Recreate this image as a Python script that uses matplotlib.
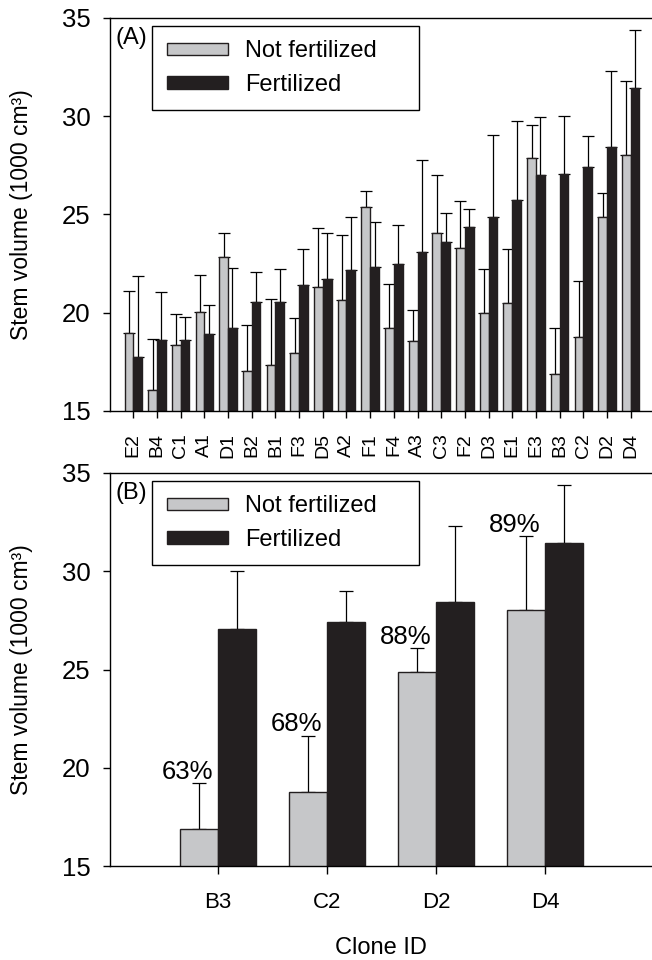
import matplotlib
matplotlib.use("Agg")
import matplotlib.pyplot as plt
import numpy as np

plt.rcParams['font.family'] = ['Liberation Sans', 'DejaVu Sans']

clones = ['E2', 'B4', 'C1', 'A1', 'D1', 'B2', 'B1', 'F3', 'D5', 'A2', 'F1',
          'F4', 'A3', 'C3', 'F2', 'D3', 'E1', 'E3', 'B3', 'C2', 'D2', 'D4']
not_fert = [18.95, 16.05, 18.34, 20.02, 22.82, 17.04, 17.36, 17.95, 21.29, 20.65, 25.37,
            19.24, 18.58, 24.04, 23.31, 19.97, 20.51, 27.89, 16.90, 18.77, 24.86, 28.05]
not_fert_err = [2.17, 2.63, 1.60, 1.92, 1.26, 2.32, 3.34, 1.77, 3.02, 3.29, 0.83,
                2.22, 1.58, 2.99, 2.38, 2.24, 2.75, 1.68, 2.31, 2.86, 1.22, 3.73]
fert = [17.73, 18.63, 18.63, 18.94, 19.24, 20.55, 20.55, 21.39, 21.70, 22.18, 22.34,
        22.50, 23.10, 23.58, 24.38, 24.89, 25.72, 27.01, 27.06, 27.43, 28.42, 31.42]
fert_err = [4.14, 2.40, 1.14, 1.45, 3.02, 1.50, 1.66, 1.84, 2.38, 2.71, 2.29,
            1.98, 4.67, 1.48, 0.90, 4.17, 4.05, 2.93, 2.93, 1.57, 3.87, 2.97]

# panel B: selected clones
sel_clones = ['B3', 'C2', 'D2', 'D4']
sel_pct = [63, 68, 88, 89]

GRAY = '#c6c7c9'
BLACK = '#231f20'
EDGE = '#231f20'


def draw_panel(ax, names, nf, nf_err, f, f_err, width, capsize):
    x = np.arange(len(names))
    nf = np.array(nf)
    f = np.array(f)
    ax.bar(x - width / 2, nf, width, color=GRAY, edgecolor=EDGE,
           linewidth=1.0, label='Not fertilized', zorder=2)
    ax.bar(x + width / 2, f, width, color=BLACK, edgecolor=EDGE,
           linewidth=1.0, label='Fertilized', zorder=2)
    ax.errorbar(x - width / 2, nf, yerr=[np.zeros(len(x)), nf_err], fmt='none',
                ecolor='black', elinewidth=0.9, capsize=capsize, capthick=0.9, zorder=1)
    ax.errorbar(x + width / 2, f, yerr=[np.zeros(len(x)), f_err], fmt='none',
                ecolor='black', elinewidth=0.9, capsize=capsize, capthick=0.9, zorder=1)
    ax.set_ylim(15, 35)
    ax.set_yticks([15, 20, 25, 30, 35])
    ax.set_xticks(x)
    ax.spines['right'].set_visible(False)
    for s in ['top', 'left', 'bottom']:
        ax.spines[s].set_linewidth(1.0)
    ax.tick_params(axis='y', direction='out', length=5, width=1.0, pad=9, labelsize=18.5)
    ax.set_ylabel('Stem volume (1000 cm³)', fontsize=16.5)
    ax.yaxis.set_label_coords(-0.142, 0.5)
    leg = ax.legend(loc='upper left', mode='expand', fontsize=17, frameon=True,
                    fancybox=False, edgecolor='black', framealpha=1,
                    handlelength=2.6, handleheight=0.45, handletextpad=0.7,
                    labelspacing=0.48, borderpad=0.62, borderaxespad=0,
                    bbox_to_anchor=(0.078, 0.0, 0.492, 0.98))
    leg.get_frame().set_linewidth(1.0)
    return x


fig = plt.figure(figsize=(6.52, 9.6), dpi=100)
ax1 = fig.add_axes([0.1687, 0.5719, 0.8313, 0.4094])
ax2 = fig.add_axes([0.1687, 0.0979, 0.8313, 0.4094])

# (A) all clones
draw_panel(ax1, clones, not_fert, not_fert_err, fert, fert_err, 0.37, 4)
ax1.set_xlim(-0.983, 21.9)
ax1.set_xticklabels(clones, rotation=90, fontsize=14)
ax1.tick_params(axis='x', direction='out', length=5, width=1.0, pad=11)
ax1.text(0.011, 0.978, '(A)', transform=ax1.transAxes, fontsize=17, ha='left', va='top')

# (B) selected clones
idx = [clones.index(c) for c in sel_clones]
nf_b = [not_fert[i] for i in idx]
nf_b_err = [not_fert_err[i] for i in idx]
f_b = [fert[i] for i in idx]
f_b_err = [fert_err[i] for i in idx]
xb = draw_panel(ax2, sel_clones, nf_b, nf_b_err, f_b, f_b_err, 0.35, 5)
ax2.set_xlim(-0.99, 3.98)
ax2.set_xticklabels(sel_clones, fontsize=16)
ax2.tick_params(axis='x', direction='out', length=6, width=1.0, pad=13)
ax2.text(0.011, 0.978, '(B)', transform=ax2.transAxes, fontsize=17, ha='left', va='top')
for xi, v, e, p in zip(xb, nf_b, nf_b_err, sel_pct):
    ax2.text(xi - 0.28, v + e + 0.22, f'{p}%', ha='center', va='baseline', fontsize=18.5)
ax2.set_xlabel('Clone ID', fontsize=17)
ax2.xaxis.set_label_coords(0.5, -0.18)

plt.savefig('out.png', dpi=100)
